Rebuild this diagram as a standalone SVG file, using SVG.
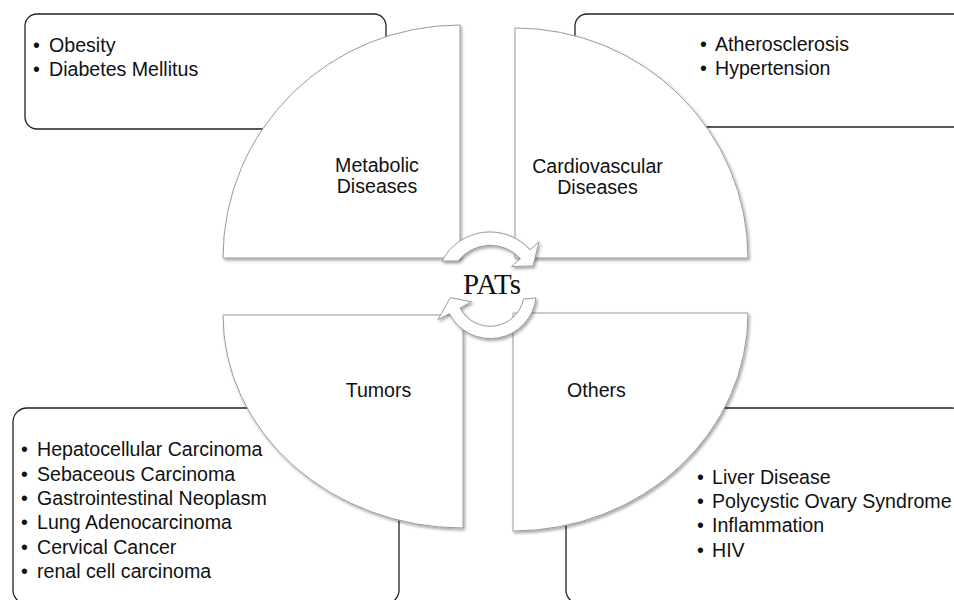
<svg xmlns="http://www.w3.org/2000/svg" width="954" height="600" viewBox="0 0 954 600">
  <defs>
    <filter id="shadow" x="-10%" y="-10%" width="130%" height="130%">
      <feDropShadow dx="1.5" dy="2" stdDeviation="1.6" flood-color="#000" flood-opacity="0.35"/>
    </filter>
  </defs>
  <style>
    .box { fill: #ffffff; stroke: #222222; stroke-width: 1.3; }
    .quarter { fill: #ffffff; stroke: #9a9a9a; stroke-width: 1; filter: url(#shadow); }
    .arrow { fill: #ffffff; stroke: #9a9a9a; stroke-width: 1; filter: url(#shadow); }
    .t { font-family: "Liberation Sans", Arial, sans-serif; font-size: 19.6px; fill: #111111; }
    .mid { text-anchor: middle; }
    .pats { font-family: "Liberation Serif", "Times New Roman", serif; font-size: 30px; fill: #111111; }
  </style>

  <rect width="954" height="600" fill="#ffffff"/>

  <!-- list boxes -->
  <g id="list-metabolic">
    <rect class="box" x="25" y="14" width="361" height="115" rx="12"/>
    <text class="t"><tspan x="33" y="52">•</tspan><tspan x="49" y="52">Obesity</tspan></text>
    <text class="t"><tspan x="33" y="76">•</tspan><tspan x="49" y="76">Diabetes Mellitus</tspan></text>
  </g>
  <g id="list-cardiovascular">
    <rect class="box" x="575" y="14" width="400" height="113" rx="12"/>
    <text class="t"><tspan x="700" y="51">•</tspan><tspan x="715" y="51">Atherosclerosis</tspan></text>
    <text class="t"><tspan x="700" y="75">•</tspan><tspan x="715" y="75">Hypertension</tspan></text>
  </g>
  <g id="list-tumors">
    <rect class="box" x="13" y="408" width="386" height="196" rx="14"/>
    <text class="t"><tspan x="21" y="456">•</tspan><tspan x="37" y="456">Hepatocellular Carcinoma</tspan></text>
    <text class="t"><tspan x="21" y="481">•</tspan><tspan x="37" y="481">Sebaceous Carcinoma</tspan></text>
    <text class="t"><tspan x="21" y="505">•</tspan><tspan x="37" y="505">Gastrointestinal Neoplasm</tspan></text>
    <text class="t"><tspan x="21" y="529">•</tspan><tspan x="37" y="529">Lung Adenocarcinoma</tspan></text>
    <text class="t"><tspan x="21" y="554">•</tspan><tspan x="37" y="554">Cervical Cancer</tspan></text>
    <text class="t"><tspan x="21" y="578">•</tspan><tspan x="37" y="578">renal cell carcinoma</tspan></text>
  </g>
  <g id="list-others">
    <rect class="box" x="566" y="408" width="400" height="196" rx="14"/>
    <text class="t"><tspan x="697" y="484">•</tspan><tspan x="712" y="484">Liver Disease</tspan></text>
    <text class="t"><tspan x="697" y="508">•</tspan><tspan x="712" y="508">Polycystic Ovary Syndrome</tspan></text>
    <text class="t"><tspan x="697" y="532">•</tspan><tspan x="712" y="532">Inflammation</tspan></text>
    <text class="t"><tspan x="697" y="557">•</tspan><tspan x="712" y="557">HIV</tspan></text>
  </g>

  <!-- quarter segments -->
  <g id="quarter-metabolic">
    <path class="quarter" d="M 460 25 L 460 258 L 223 258 A 237 233 0 0 1 460 25 Z"/>
    <text class="t mid" x="377" y="172">Metabolic</text>
    <text class="t mid" x="377" y="193">Diseases</text>
  </g>
  <g id="quarter-cardiovascular">
    <path class="quarter" d="M 515 28 A 233 230 0 0 1 748 258 L 515 258 Z"/>
    <text class="t mid" x="597.5" y="173">Cardiovascular</text>
    <text class="t mid" x="597.5" y="193.5">Diseases</text>
  </g>
  <g id="quarter-tumors">
    <path class="quarter" d="M 223 315 L 463 315 L 463 528 A 240 213 0 0 1 223 315 Z"/>
    <text class="t mid" x="378.5" y="397">Tumors</text>
  </g>
  <g id="quarter-others">
    <path class="quarter" d="M 513 313 L 748 313 A 235 218 0 0 1 513 531 Z"/>
    <text class="t mid" x="596.5" y="397">Others</text>
  </g>

  <!-- circular arrows -->
  <g id="connectors">
    <path class="arrow" d="M 442 261 A 54 54 0 0 1 530.1 249.9 L 539 241.8 L 533 265.9 L 511.5 266.6 L 520.5 258.6 A 41 41 0 0 0 458 261 Z"/>
    <path class="arrow" d="M 536 298 A 46 46 0 0 1 449.4 313.6 L 437.9 319.7 L 450.4 297.6 L 471.5 301.8 L 460 308 A 34 34 0 0 0 523.5 299 Z"/>
  </g>

  <g id="center-pats">
    <text class="pats" x="463" y="294" textLength="58" lengthAdjust="spacingAndGlyphs">PATs</text>
  </g>
</svg>
